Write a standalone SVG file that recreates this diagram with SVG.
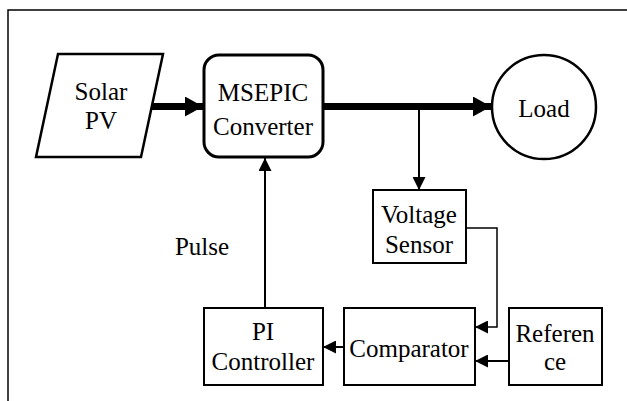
<svg xmlns="http://www.w3.org/2000/svg" width="627" height="401" viewBox="0 0 627 401">
<defs>
<style>
text{font-family:'Liberation Serif','Times New Roman',serif;font-size:25px;fill:#000;text-anchor:middle}
.box{fill:#fff;stroke:#000;stroke-width:2}
.thick{stroke:#000;stroke-width:7;fill:none}
.thin{stroke:#000;stroke-width:2;fill:none}
.fb{stroke:#000;stroke-width:1.5;fill:none}
</style>
<marker id="big" markerWidth="18" markerHeight="20" refX="18" refY="10" orient="auto" markerUnits="userSpaceOnUse"><path d="M0,0 L18,10 L0,20 Z" fill="#000"/></marker>
<marker id="sm" markerWidth="13" markerHeight="13" refX="13" refY="6.5" orient="auto" markerUnits="userSpaceOnUse"><path d="M0,0 L13,6.5 L0,13 Z" fill="#000"/></marker>
</defs>
<rect width="627" height="401" fill="#fff"/>
<path d="M8,401 V10 H627" fill="none" stroke="#000" stroke-width="1.5"/>
<g id="connectors">
<line class="thick" x1="150" y1="106.5" x2="203" y2="106.5" marker-end="url(#big)"/>
<line class="thick" x1="324" y1="106.5" x2="491" y2="106.5" marker-end="url(#big)"/>
<line class="thin" x1="419" y1="106.5" x2="419" y2="190" marker-end="url(#sm)"/>
<polyline class="fb" points="466,228 497,228 497,327 475,327" marker-end="url(#sm)"/>
<line class="thin" x1="509" y1="361" x2="475" y2="361" marker-end="url(#sm)"/>
<line class="thin" x1="344" y1="347" x2="323" y2="347" marker-end="url(#sm)"/>
<line class="thin" x1="265" y1="308" x2="265" y2="158" marker-end="url(#sm)"/>
<text x="202" y="255">Pulse</text>
</g>
<g id="solar">
<polygon points="58,54 163,54 141,157 36,157" fill="#fff" stroke="#000" stroke-width="2.5"/>
<text x="101" y="100">Solar</text>
<text x="101" y="129">PV</text>
</g>
<g id="msepic">
<rect x="204" y="55" width="119" height="102" rx="15" fill="#fff" stroke="#000" stroke-width="3"/>
<text x="263" y="101">MSEPIC</text>
<text x="263" y="135">Converter</text>
</g>
<g id="load">
<circle cx="544" cy="107" r="52" fill="#fff" stroke="#000" stroke-width="2.5"/>
<text x="544" y="117">Load</text>
</g>
<g id="voltage-sensor">
<rect class="box" x="373" y="190" width="93" height="73"/>
<text x="419" y="223">Voltage</text>
<text x="419" y="253">Sensor</text>
</g>
<g id="comparator">
<rect class="box" x="344" y="308" width="131" height="77"/>
<text x="409" y="357">Comparator</text>
</g>
<g id="reference">
<rect class="box" x="509" y="308" width="93" height="77"/>
<text x="555" y="342">Referen</text>
<text x="555" y="370">ce</text>
</g>
<g id="pi">
<rect class="box" x="204" y="308" width="119" height="77"/>
<text x="263" y="340">PI</text>
<text x="263" y="370">Controller</text>
</g>
</svg>
